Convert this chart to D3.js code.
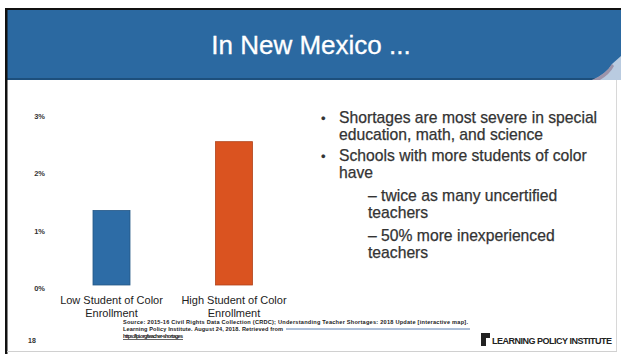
<!DOCTYPE html>
<html>
<head>
<meta charset="utf-8">
<script src="https://cdn.jsdelivr.net/npm/d3@7"></script>
<style>
  html, body { margin: 0; padding: 0; background: #fff; }
  svg { display: block; }
</style>
</head>
<body>
<svg id="slide" width="621" height="354"></svg>
<script>
// Uncertified teachers by student-of-color enrollment, New Mexico
const categories = ["Low Student of Color Enrollment", "High Student of Color Enrollment"];
const categoryLines = [["Low Student of Color", "Enrollment"], ["High Student of Color", "Enrollment"]];
const values = [1.3, 2.5];
const barColors = ["#2d6ca6", "#da5320"];
const tickValues = [0, 1, 2, 3];

const title = "In New Mexico ...";
const bullets = [
  { level: 0, lines: ["Shortages are most severe in special", "education, math, and science"] },
  { level: 0, lines: ["Schools with more students of color", "have"] },
  { level: 1, lines: ["\u2013 twice as many uncertified", "teachers"] },
  { level: 1, lines: ["\u2013 50% more inexperienced", "teachers"] }
];
const sourceLines = [
  "Source: 2015-16 Civil Rights Data Collection (CRDC); Understanding Teacher Shortages: 2018 Update [interactive map].",
  "Learning Policy Institute. August 24, 2018. Retrieved from",
  "https://lpi.org/teacher-shortages"
];
const pageNumber = "18";
const logoText = "LEARNING POLICY INSTITUTE";

const svg = d3.select("#slide");

// Slide frame
svg.append("rect").attr("x", 0).attr("y", 0).attr("width", 621).attr("height", 354).attr("fill", "#fff");

// Header band
const header = svg.append("g");
header.append("rect").attr("x", 7).attr("y", 9).attr("width", 614).attr("height", 71).attr("fill", "#2b69a1");
header.append("rect").attr("x", 7).attr("y", 78).attr("width", 614).attr("height", 2).attr("fill", "#1d4f7c");
// page-curl corner
header.append("path")
  .attr("d", "M621,56 L621,80 L592,80 Q606,74 612,64 Z")
  .attr("fill", "#b9cbe0");
header.append("path")
  .attr("d", "M612,64 Q606,74 592,80 L600,80 Q610,74 614,66 Z")
  .attr("fill", "#8b6f86").attr("opacity", 0.6);
header.append("text")
  .attr("x", 311).attr("y", 54)
  .attr("text-anchor", "middle")
  .attr("font-family", "Arial, 'Liberation Sans', sans-serif")
  .attr("font-size", 26)
  .attr("fill", "#fff")
  .attr("stroke", "#fff").attr("stroke-width", 0.3)
  .text(title);

// Borders
svg.append("rect").attr("x", 5).attr("y", 8).attr("width", 616).attr("height", 2).attr("fill", "#111");
svg.append("rect").attr("x", 5).attr("y", 8).attr("width", 2.5).attr("height", 346).attr("fill", "#111");
svg.append("rect").attr("x", 616).attr("y", 80).attr("width", 1).attr("height", 272).attr("fill", "#d8d8d8");
svg.append("rect").attr("x", 7).attr("y", 351).attr("width", 610).attr("height", 1).attr("fill", "#d0d0d0");

// Chart scales
const y = d3.scaleLinear().domain([0, 3]).range([285, 113]);
const x = d3.scalePoint().domain(categories).range([111.5, 234]);
const barWidth = 37;

const yAxis = d3.axisLeft(y)
  .tickValues(tickValues)
  .tickFormat(d => d + "%")
  .tickSize(0)
  .tickPadding(0);

const axisG = svg.append("g")
  .attr("transform", "translate(45,3)")
  .call(yAxis);
axisG.select(".domain").remove();
axisG.selectAll("text")
  .attr("font-family", "Arial, 'Liberation Sans', sans-serif")
  .attr("font-size", 7.5)
  .attr("font-weight", "bold")
  .attr("fill", "#333");

svg.append("g").selectAll("rect")
  .data(categories)
  .join("rect")
  .attr("x", d => x(d) - barWidth / 2)
  .attr("y", (d, i) => y(values[i]))
  .attr("width", barWidth)
  .attr("height", (d, i) => y(0) - y(values[i]))
  .attr("fill", (d, i) => barColors[i])
  .attr("stroke", (d, i) => d3.color(barColors[i]).darker(0.6))
  .attr("stroke-width", 0.8);

// Category labels
const catG = svg.append("g");
categories.forEach((c, i) => {
  categoryLines[i].forEach((line, j) => {
    catG.append("text")
      .attr("x", x(c))
      .attr("y", 304 + j * 13)
      .attr("text-anchor", "middle")
      .attr("font-family", "Arial, 'Liberation Sans', sans-serif")
      .attr("font-size", 11)
      .attr("fill", "#222")
      .text(line);
  });
});

// Bullet text
const bulletG = svg.append("g")
  .attr("font-family", "Arial, 'Liberation Sans', sans-serif")
  .attr("font-size", 15.7)
  .attr("fill", "#333")
  .attr("stroke", "#333").attr("stroke-width", 0.25);
const lineStarts = [123, 161, 201, 241];
bullets.forEach((b, i) => {
  const tx = b.level === 0 ? 339 : 368;
  if (b.level === 0) {
    bulletG.append("text").attr("x", 321).attr("y", lineStarts[i]).attr("font-size", 13).text("\u2022");
  }
  b.lines.forEach((line, j) => {
    bulletG.append("text")
      .attr("x", tx)
      .attr("y", lineStarts[i] + j * 17)
      .text(line);
  });
});

// Source note
const srcG = svg.append("g")
  .attr("font-family", "Arial, 'Liberation Sans', sans-serif")
  .attr("font-size", 5.6)
  .attr("font-weight", "bold")
  .attr("fill", "#222");
srcG.append("text").attr("x", 123).attr("y", 324).attr("textLength", 345).text(sourceLines[0]);
srcG.append("text").attr("x", 123).attr("y", 331).attr("textLength", 160).text(sourceLines[1]);
svg.append("line").attr("x1", 286).attr("x2", 470).attr("y1", 329).attr("y2", 329)
  .attr("stroke", "#5a7fb0").attr("stroke-width", 1);
srcG.append("text").attr("x", 123).attr("y", 338).attr("textLength", 60).text(sourceLines[2]);
svg.append("line").attr("x1", 123).attr("x2", 183).attr("y1", 339.5).attr("y2", 339.5)
  .attr("stroke", "#222").attr("stroke-width", 0.7);

// Page number
svg.append("text").attr("x", 28).attr("y", 343)
  .attr("font-family", "Arial, 'Liberation Sans', sans-serif")
  .attr("font-size", 7).attr("font-weight", "bold").attr("fill", "#333")
  .text(pageNumber);

// Logo
const logo = svg.append("g");
logo.append("rect").attr("x", 481).attr("y", 333).attr("width", 5).attr("height", 13).attr("fill", "#222");
logo.append("rect").attr("x", 486).attr("y", 333).attr("width", 4).attr("height", 5).attr("fill", "#222");
logo.append("text").attr("x", 492).attr("y", 344)
  .attr("font-family", "'Liberation Sans Narrow', Arial, sans-serif")
  .attr("font-size", 9).attr("font-weight", "bold").attr("fill", "#222")
  .attr("textLength", 120)
  .text(logoText);
</script>
</body>
</html>
